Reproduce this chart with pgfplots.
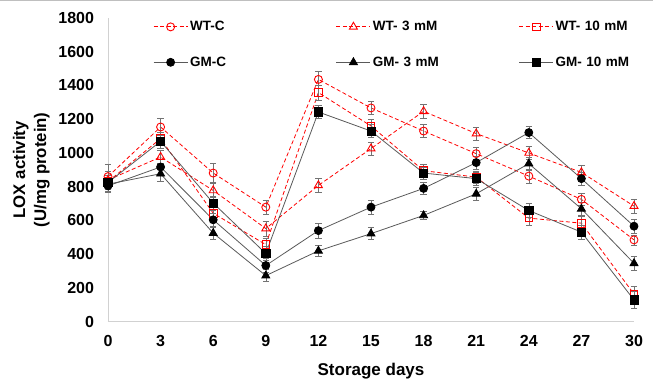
\documentclass[border=0pt]{standalone}
\usepackage{fontspec}
\setmainfont{Liberation Sans}
\usepackage{pgfplots}
\pgfplotsset{compat=1.18}
\pgfplotsset{myerr/.style={
  /pgfplots/error bars/y dir=both, /pgfplots/error bars/y explicit,
  /pgfplots/error bars/error bar style={black!55, line width=0.6pt, solid},
  /pgfplots/error bars/error mark options={rotate=90, black!55, mark size=3.2pt, line width=0.6pt, solid}}}
\begin{document}
\begin{tikzpicture}[x=1pt,y=1pt]
\useasboundingbox (0,0) rectangle (653,378);
\draw[black!25, line width=1pt] (0,377.5) -- (653,377.5);
\begin{axis}[
  at={(108pt,56.3pt)}, anchor=south west,
  scale only axis, width=526pt, height=303.7pt,
  xmin=0, xmax=30, ymin=0, ymax=1800,
  xtick={0,3,...,30}, ytick={0,200,...,1800},
  axis x line=bottom, axis y line=left,
  axis line style={draw=black!18, line width=0.8pt, -},
  major tick length=0pt,
  /pgf/number format/assume math mode=true,
  /pgf/number format/1000 sep={},
  tick label style={font=\fontsize{16}{19}\selectfont\bfseries},
  yticklabel style={xshift=-10.5pt},
  xticklabel style={yshift=-10pt},
  xlabel={Storage days},
  ylabel={LOX activity\\(U/mg protein)},
  xlabel style={at={(axis description cs:0.5,-0.162)}, anchor=center, font=\fontsize{17}{21}\selectfont\bfseries},
  ylabel style={at={(axis description cs:-0.146,0.5)}, anchor=center, align=center, font=\fontsize{16.8}{21}\selectfont\bfseries},
  clip=false,
  legend columns=3,
  legend image code/.code={\draw[mark repeat=2,mark phase=2] plot coordinates {(0pt,0pt) (17pt,0pt) (34pt,0pt)};},
  legend style={at={(axis description cs:0.0856,0.996)}, anchor=north west, draw=none, fill=none, inner sep=0pt,
    font=\fontsize{13.5}{16}\selectfont\bfseries, row sep=20.5pt,
    nodes={inner sep=2pt, text width=138pt, align=left, anchor=west},
    /tikz/every even column/.append style={column sep=6pt}},
]
% WT-C
\addplot[red, line width=0.8pt, dash pattern=on 4pt off 2.5pt, mark=o, mark size=4pt, mark options={solid, red, line width=0.9pt}, myerr]
 coordinates {(0,860)+-(0,70) (3,1154)+-(0,50) (6,881)+-(0,55) (9,679)+-(0,40) (12,1436)+-(0,50) (15,1267)+-(0,40) (18,1130)+-(0,40) (21,996)+-(0,35) (24,863)+-(0,40) (27,725)+-(0,35) (30,485)+-(0,30)};
\addlegendentry{WT-C}
% WT-3
\addplot[red, line width=0.8pt, dash pattern=on 4pt off 2.5pt, mark=triangle, mark size=4.6pt, mark options={solid, red, line width=0.9pt}, myerr]
 coordinates {(0,840)+-(0,50) (3,976)+-(0,40) (6,778)+-(0,40) (9,552)+-(0,45) (12,808)+-(0,40) (15,1026)+-(0,40) (18,1247)+-(0,40) (21,1115)+-(0,40) (24,1000)+-(0,40) (27,885)+-(0,40) (30,685)+-(0,40)};
\addlegendentry{WT- 3 mM}
% WT-10
\addplot[red, line width=0.8pt, dash pattern=on 4pt off 2.5pt, mark=square, mark size=3.8pt, mark options={solid, red, line width=0.9pt}, myerr]
 coordinates {(0,830)+-(0,40) (3,1085)+-(0,40) (6,643)+-(0,40) (9,457)+-(0,40) (12,1358)+-(0,45) (15,1160)+-(0,40) (18,895)+-(0,35) (21,857)+-(0,35) (24,614)+-(0,45) (27,584)+-(0,40) (30,164)+-(0,45)};
\addlegendentry{WT- 10 mM}
% GM-C
\addplot[black!65, line width=0.8pt, mark=*, mark size=4pt, mark options={black, fill=black}, myerr]
 coordinates {(0,805)+-(0,40) (3,917)+-(0,45) (6,604)+-(0,40) (9,333)+-(0,40) (12,540)+-(0,45) (15,679)+-(0,40) (18,790)+-(0,35) (21,943)+-(0,40) (24,1121)+-(0,35) (27,848)+-(0,40) (30,566)+-(0,40)};
\addlegendentry{GM-C}
% GM-3
\addplot[black!65, line width=0.8pt, mark=triangle*, mark size=4.6pt, mark options={black, fill=black}, myerr]
 coordinates {(0,815)+-(0,40) (3,877)+-(0,45) (6,525)+-(0,35) (9,273)+-(0,35) (12,420)+-(0,35) (15,522)+-(0,35) (18,630)+-(0,25) (21,758)+-(0,40) (24,937)+-(0,40) (27,669)+-(0,40) (30,346)+-(0,40)};
\addlegendentry{GM- 3 mM}
% GM-10
\addplot[black!65, line width=0.8pt, mark=square*, mark size=4.1pt, mark options={black, fill=black}, myerr]
 coordinates {(0,825)+-(0,40) (3,1069)+-(0,40) (6,703)+-(0,40) (9,404)+-(0,40) (12,1243)+-(0,40) (15,1130)+-(0,40) (18,881)+-(0,35) (21,848)+-(0,40) (24,659)+-(0,40) (27,531)+-(0,40) (30,129)+-(0,50)};
\addlegendentry{GM- 10 mM}
\end{axis}
\end{tikzpicture}
\end{document}
